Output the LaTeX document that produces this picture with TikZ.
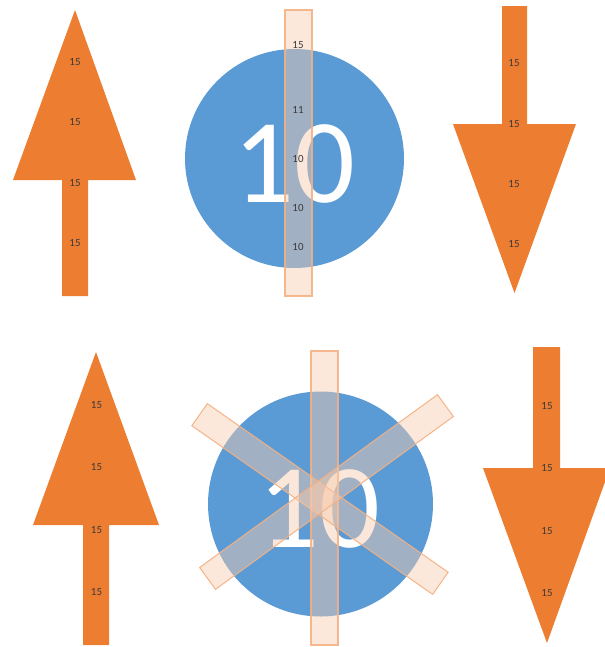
\documentclass[tikz,border=0pt]{standalone}
\usepackage{fontspec}
\setmainfont{Carlito}
\usetikzlibrary{calc}
\definecolor{accOrange}{HTML}{ED7D31}
\definecolor{accBlue}{HTML}{5B9BD5}
\definecolor{barFill}{HTML}{F8CBAD}
\definecolor{barEdge}{HTML}{F4B183}
\definecolor{labelInk}{HTML}{3A3A3A}
\tikzset{
  arrowshape/.style={fill=accOrange, draw=none},
  disc/.style={circle, fill=accBlue, draw=none, inner sep=0pt},
  bignum/.style={text=white, inner sep=0pt, font=\fontsize{90}{90}\selectfont},
  bar/.style={rectangle, inner sep=0pt, minimum width=20.25pt,
              fill=barFill, fill opacity=0.45, draw=barEdge, draw opacity=0.9,
              line width=0.8pt},
  lbl/.style={text=labelInk, inner sep=0pt, font=\fontsize{8.2}{9}\selectfont},
}
\begin{document}
\begin{tikzpicture}[x=0.75pt, y=-0.75pt]
\useasboundingbox (0,0) rectangle (605,647);

% ---- upper row ----
% up arrow
\fill[arrowshape] (75,10) -- (136,180) -- (88,180) -- (88,296) -- (62,296)
  -- (62,180) -- (13,180) -- cycle;
\node[lbl] (ua1) at (75,62) {15};
\node[lbl] (ua2) at (75,122) {15};
\node[lbl] (ua3) at (75,183) {15};
\node[lbl] (ua4) at (75,243) {15};

% disc with a single bar
\node[disc, minimum size=164.25pt] (d1) at (294.5,158.5) {};
\node[bignum] (n1) at (294,163.5) {10};
\node[bar, minimum height=214.5pt] (b1) at (298.5,153) {};
\node[lbl] (bl1) at (298,45) {15};
\node[lbl] (bl2) at (298,110) {11};
\node[lbl] (bl3) at (298,159) {10};
\node[lbl] (bl4) at (298,208) {10};
\node[lbl] (bl5) at (298,247) {10};

% down arrow
\fill[arrowshape] (502,6) -- (527,6) -- (527,124) -- (576,124) -- (514.5,293)
  -- (453,124) -- (502,124) -- cycle;
\node[lbl] (da1) at (514,63) {15};
\node[lbl] (da2) at (514,124) {15};
\node[lbl] (da3) at (514,184) {15};
\node[lbl] (da4) at (514,244) {15};

% ---- lower row ----
% up arrow
\fill[arrowshape] (96,352) -- (159,525) -- (109,525) -- (109,645) -- (83,645)
  -- (83,525) -- (33,525) -- cycle;
\node[lbl] (ub1) at (96.5,405) {15};
\node[lbl] (ub2) at (96.5,467) {15};
\node[lbl] (ub3) at (96.5,530) {15};
\node[lbl] (ub4) at (96.5,592) {15};

% disc with three crossing bars
\node[disc, minimum size=168.75pt] (d2) at (320.5,504) {};
\node[bignum] (n2) at (319,509) {10};
\node[bar, minimum height=220.5pt] (c1) at (324.5,498) {};
\node[bar, minimum height=220.5pt, rotate=55] (c2) at (320,499) {};
\node[bar, minimum height=220.5pt, rotate=-54] (c3) at (326.5,492) {};

% down arrow
\fill[arrowshape] (533,347) -- (560,347) -- (560,468) -- (610,468) -- (547,643)
  -- (483,468) -- (533,468) -- cycle;
\node[lbl] (db1) at (547,406) {15};
\node[lbl] (db2) at (547,468) {15};
\node[lbl] (db3) at (547,531) {15};
\node[lbl] (db4) at (547,593) {15};
\end{tikzpicture}
\end{document}
